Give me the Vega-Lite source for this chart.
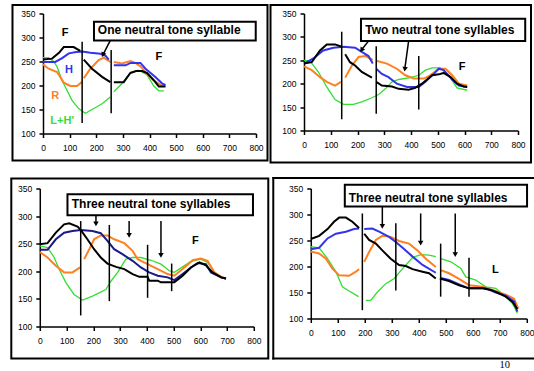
{
  "$schema": "https://vega.github.io/schema/vega-lite/v6.json",
  "padding": {"left": 9.5, "top": 3.5, "right": 0, "bottom": 0},
  "config": {
    "view": {"stroke": null},
    "font": "Liberation Sans",
    "axis": {"domainColor": "black", "domainWidth": 1.5, "tickColor": "black", "tickWidth": 1.5, "tickSize": 4, "labelFont": "Liberation Sans", "labelFontSize": 8.5, "labelColor": "black", "grid": false, "labelFlush": false, "labelOverlap": false}
  },
  "vconcat": [
    {
      "hconcat": [
        {
          "width": 213, "height": 120,
          "data": {"values": [
              {"s":"L","g":1,"x":0,"y":258},{"s":"L","g":1,"x":21,"y":258},{"s":"L","g":1,"x":40,"y":250},{"s":"L","g":1,"x":53,"y":239},{"s":"L","g":1,"x":71,"y":211},{"s":"L","g":1,"x":90,"y":190},{"s":"L","g":1,"x":109,"y":169},{"s":"L","g":1,"x":134,"y":152},{"s":"L","g":1,"x":159,"y":142},{"s":"L","g":1,"x":191,"y":152},{"s":"L","g":1,"x":222,"y":162},{"s":"L","g":1,"x":253,"y":176},
              {"s":"L","g":2,"x":266,"y":187},{"s":"L","g":2,"x":297,"y":204},{"s":"L","g":2,"x":329,"y":228},{"s":"L","g":2,"x":360,"y":232},{"s":"L","g":2,"x":391,"y":222},{"s":"L","g":2,"x":416,"y":199},{"s":"L","g":2,"x":435,"y":189},{"s":"L","g":2,"x":454,"y":189},
              {"s":"R","g":1,"x":0,"y":244},{"s":"R","g":1,"x":21,"y":235},{"s":"R","g":1,"x":53,"y":228},{"s":"R","g":1,"x":78,"y":206},{"s":"R","g":1,"x":103,"y":199},{"s":"R","g":1,"x":128,"y":199},{"s":"R","g":1,"x":147,"y":208},
              {"s":"R","g":2,"x":153,"y":215},{"s":"R","g":2,"x":178,"y":235},{"s":"R","g":2,"x":209,"y":253},{"s":"R","g":2,"x":228,"y":258},{"s":"R","g":2,"x":253,"y":249},
              {"s":"R","g":3,"x":266,"y":249},{"s":"R","g":3,"x":297,"y":246},{"s":"R","g":3,"x":329,"y":251},{"s":"R","g":3,"x":347,"y":247},{"s":"R","g":3,"x":366,"y":240},{"s":"R","g":3,"x":385,"y":228},{"s":"R","g":3,"x":416,"y":211},{"s":"R","g":3,"x":448,"y":199},{"s":"R","g":3,"x":460,"y":199},
              {"s":"H","g":1,"x":0,"y":249},{"s":"H","g":1,"x":46,"y":249},{"s":"H","g":1,"x":72,"y":257},{"s":"H","g":1,"x":97,"y":267},{"s":"H","g":1,"x":125,"y":270},{"s":"H","g":1,"x":147,"y":271},{"s":"H","g":1,"x":178,"y":268},{"s":"H","g":1,"x":216,"y":266},{"s":"H","g":1,"x":235,"y":262},{"s":"H","g":1,"x":247,"y":254},
              {"s":"H","g":2,"x":266,"y":242},{"s":"H","g":2,"x":310,"y":242},{"s":"H","g":2,"x":329,"y":247},{"s":"H","g":2,"x":366,"y":247},{"s":"H","g":2,"x":385,"y":235},{"s":"H","g":2,"x":404,"y":226},{"s":"H","g":2,"x":423,"y":217},{"s":"H","g":2,"x":448,"y":204},{"s":"H","g":2,"x":460,"y":201},
              {"s":"F","g":1,"x":0,"y":254},{"s":"F","g":1,"x":34,"y":256},{"s":"F","g":1,"x":60,"y":268},{"s":"F","g":1,"x":78,"y":280},{"s":"F","g":1,"x":115,"y":280},{"s":"F","g":1,"x":140,"y":272},
              {"s":"F","g":2,"x":153,"y":254},{"s":"F","g":2,"x":184,"y":235},{"s":"F","g":2,"x":222,"y":218},{"s":"F","g":2,"x":253,"y":207},
              {"s":"F","g":3,"x":266,"y":207},{"s":"F","g":3,"x":303,"y":207},{"s":"F","g":3,"x":328,"y":226},{"s":"F","g":3,"x":350,"y":230},{"s":"F","g":3,"x":372,"y":230},{"s":"F","g":3,"x":391,"y":226},{"s":"F","g":3,"x":416,"y":211},{"s":"F","g":3,"x":435,"y":198},{"s":"F","g":3,"x":460,"y":198}
          ]},
          "encoding": {
            "x": {"field": "x", "type": "quantitative", "scale": {"domain": [0, 800], "nice": false, "zero": false}, "axis": {"values": [0,100,200,300,400,500,600,700,800], "title": null, "labelPadding": 6}},
            "y": {"field": "y", "type": "quantitative", "scale": {"domain": [100, 350], "nice": false, "zero": false}, "axis": {"values": [100,150,200,250,300,350], "title": null, "labelPadding": 4}}
          },
          "layer": [
            {"data": {"values": [{"x": -114.6, "x2": 843.2, "y": 43.75, "y2": 367.7}]}, "mark": {"type": "rect", "filled": false, "stroke": "black", "strokeWidth": 2}, "encoding": {"x2": {"field": "x2"}, "y2": {"field": "y2"}}},
            {"transform": [{"filter": "datum.s === 'L'"}], "mark": {"type": "line", "strokeWidth": 1.3, "color": "#33dd33"}, "encoding": {"detail": {"field": "g"}}},
            {"transform": [{"filter": "datum.s !== 'L'"}], "mark": {"type": "line", "strokeWidth": 2},
             "encoding": {"color": {"field": "s", "type": "nominal", "scale": {"domain": ["F","H","R","L"], "range": ["#000000","#3333ee","#ff8020","#33dd33"]}, "legend": null}, "detail": {"field": "g"}}},
            {"data": {"values": [{"x":147,"y":122,"y2":291},{"x":256,"y":142,"y2":274}]}, "mark": {"type": "rule", "strokeWidth": 1.5, "color": "black"}, "encoding": {"y2": {"field": "y2"}}},
            {"data": {"values": [{"x":191.5,"x2":799,"y":294,"y2":333}]}, "mark": {"type": "rect", "fill": "white", "stroke": "black", "strokeWidth": 2}, "encoding": {"x2": {"field": "x2"}, "y2": {"field": "y2"}}},
            {"data": {"values": [{"x":206,"y":316,"t":"One neutral tone syllable"}]}, "mark": {"type": "text", "align": "left", "baseline": "middle", "fontWeight": "bold", "fontSize": 12}, "encoding": {"text": {"field": "t"}}},
            {"data": {"values": [{"x":253,"y":294,"x2":226,"y2":265}]}, "mark": {"type": "rule", "strokeWidth": 1.5, "color": "black"}, "encoding": {"x2": {"field": "x2"}, "y2": {"field": "y2"}}},
            {"data": {"values": [{"x":225,"y":264}]}, "mark": {"type": "point", "shape": "triangle-down", "filled": true, "color": "black", "opacity": 1, "size": 30, "angle": 25}},
            {"data": {"values": [{"x":83,"y":309,"t":"F","s":"F"},{"x":98,"y":232,"t":"H","s":"H"},{"x":46,"y":179,"t":"R","s":"R"},{"x":72,"y":126,"t":"L+H'","s":"L"},{"x":435,"y":259,"t":"F","s":"F"}]}, "mark": {"type": "text", "fontWeight": "bold", "fontSize": 11, "baseline": "middle"}, "encoding": {"text": {"field": "t"}, "color": {"field": "s", "type": "nominal", "scale": {"domain": ["F","H","R","L"], "range": ["#000000","#3333ee","#ff8020","#22cc22"]}, "legend": null}}}
          ]
        },
        {
          "width": 214, "height": 117,
          "data": {"values": [
              {"s":"L","g":1,"x":0,"y":250},{"s":"L","g":1,"x":22,"y":249},{"s":"L","g":1,"x":54,"y":225},{"s":"L","g":1,"x":85,"y":193},{"s":"L","g":1,"x":116,"y":166},{"s":"L","g":1,"x":148,"y":156},{"s":"L","g":1,"x":185,"y":156},{"s":"L","g":1,"x":216,"y":161},{"s":"L","g":1,"x":254,"y":170},{"s":"L","g":1,"x":279,"y":177},{"s":"L","g":1,"x":304,"y":189},{"s":"L","g":1,"x":329,"y":204},{"s":"L","g":1,"x":354,"y":209},{"s":"L","g":1,"x":397,"y":213},{"s":"L","g":1,"x":429,"y":218},{"s":"L","g":1,"x":454,"y":229},{"s":"L","g":1,"x":479,"y":234},{"s":"L","g":1,"x":510,"y":234},{"s":"L","g":1,"x":541,"y":218},{"s":"L","g":1,"x":572,"y":191},{"s":"L","g":1,"x":610,"y":186},
              {"s":"R","g":1,"x":0,"y":237},{"s":"R","g":1,"x":29,"y":229},{"s":"R","g":1,"x":60,"y":214},{"s":"R","g":1,"x":85,"y":204},{"s":"R","g":1,"x":116,"y":196},{"s":"R","g":1,"x":138,"y":204},
              {"s":"R","g":2,"x":154,"y":213},{"s":"R","g":2,"x":179,"y":239},{"s":"R","g":2,"x":204,"y":257},{"s":"R","g":2,"x":229,"y":259},{"s":"R","g":2,"x":257,"y":251},
              {"s":"R","g":3,"x":270,"y":249},{"s":"R","g":3,"x":310,"y":243},{"s":"R","g":3,"x":347,"y":232},{"s":"R","g":3,"x":379,"y":218},{"s":"R","g":3,"x":410,"y":211},{"s":"R","g":3,"x":448,"y":211},{"s":"R","g":3,"x":472,"y":218},{"s":"R","g":3,"x":504,"y":232},{"s":"R","g":3,"x":529,"y":232},{"s":"R","g":3,"x":554,"y":218},{"s":"R","g":3,"x":579,"y":200},{"s":"R","g":3,"x":610,"y":196},
              {"s":"H","g":1,"x":0,"y":243},{"s":"H","g":1,"x":35,"y":254},{"s":"H","g":1,"x":72,"y":271},{"s":"H","g":1,"x":110,"y":277},{"s":"H","g":1,"x":148,"y":279},{"s":"H","g":1,"x":191,"y":277},{"s":"H","g":1,"x":216,"y":268},{"s":"H","g":1,"x":241,"y":259},{"s":"H","g":1,"x":257,"y":243},
              {"s":"H","g":2,"x":270,"y":232},{"s":"H","g":2,"x":291,"y":221},{"s":"H","g":2,"x":316,"y":214},{"s":"H","g":2,"x":347,"y":200},{"s":"H","g":2,"x":385,"y":193},{"s":"H","g":2,"x":429,"y":193},{"s":"H","g":2,"x":454,"y":204},{"s":"H","g":2,"x":485,"y":221},{"s":"H","g":2,"x":504,"y":232},{"s":"H","g":2,"x":522,"y":229},{"s":"H","g":2,"x":554,"y":209},{"s":"H","g":2,"x":579,"y":196},{"s":"H","g":2,"x":610,"y":193},
              {"s":"F","g":1,"x":0,"y":243},{"s":"F","g":1,"x":29,"y":246},{"s":"F","g":1,"x":60,"y":271},{"s":"F","g":1,"x":85,"y":284},{"s":"F","g":1,"x":116,"y":284},{"s":"F","g":1,"x":141,"y":279},
              {"s":"F","g":2,"x":154,"y":263},{"s":"F","g":2,"x":172,"y":246},{"s":"F","g":2,"x":191,"y":239},{"s":"F","g":2,"x":216,"y":225},{"s":"F","g":2,"x":254,"y":213},
              {"s":"F","g":3,"x":270,"y":204},{"s":"F","g":3,"x":291,"y":196},{"s":"F","g":3,"x":329,"y":194},{"s":"F","g":3,"x":354,"y":189},{"s":"F","g":3,"x":391,"y":187},{"s":"F","g":3,"x":416,"y":191},{"s":"F","g":3,"x":441,"y":200},{"s":"F","g":3,"x":479,"y":218},{"s":"F","g":3,"x":504,"y":220},{"s":"F","g":3,"x":522,"y":223},{"s":"F","g":3,"x":548,"y":214},{"s":"F","g":3,"x":572,"y":200},{"s":"F","g":3,"x":597,"y":194},{"s":"F","g":3,"x":610,"y":193}
          ]},
          "encoding": {
            "x": {"field": "x", "type": "quantitative", "scale": {"domain": [0, 800], "nice": false, "zero": false}, "axis": {"values": [0,100,200,300,400,500,600,700,800], "title": null, "labelPadding": 6}},
            "y": {"field": "y", "type": "quantitative", "scale": {"domain": [100, 350], "nice": false, "zero": false}, "axis": {"values": [100,150,200,250,300,350], "title": null, "labelPadding": 4}}
          },
          "layer": [
            {"data": {"values": [{"x": -125.2, "x2": 848.6, "y": 31.6, "y2": 368.2}]}, "mark": {"type": "rect", "filled": false, "stroke": "black", "strokeWidth": 2}, "encoding": {"x2": {"field": "x2"}, "y2": {"field": "y2"}}},
            {"transform": [{"filter": "datum.s === 'L'"}], "mark": {"type": "line", "strokeWidth": 1.3, "color": "#33dd33"}, "encoding": {"detail": {"field": "g"}}},
            {"transform": [{"filter": "datum.s !== 'L'"}], "mark": {"type": "line", "strokeWidth": 2},
             "encoding": {"color": {"field": "s", "type": "nominal", "scale": {"domain": ["F","H","R","L"], "range": ["#000000","#3333ee","#ff8020","#33dd33"]}, "legend": null}, "detail": {"field": "g"}}},
            {"data": {"values": [{"x":141,"y":124,"y2":311},{"x":270,"y":136,"y2":280},{"x":429,"y":145,"y2":259}]}, "mark": {"type": "rule", "strokeWidth": 1.5, "color": "black"}, "encoding": {"y2": {"field": "y2"}}},
            {"data": {"values": [{"x":213,"x2":827,"y":291,"y2":339}]}, "mark": {"type": "rect", "fill": "white", "stroke": "black", "strokeWidth": 2}, "encoding": {"x2": {"field": "x2"}, "y2": {"field": "y2"}}},
            {"data": {"values": [{"x":229,"y":315,"t":"Two neutral tone syllables"}]}, "mark": {"type": "text", "align": "left", "baseline": "middle", "fontWeight": "bold", "fontSize": 12}, "encoding": {"text": {"field": "t"}}},
            {"data": {"values": [{"x":241,"y":291,"x2":216,"y2":273},{"x":391,"y":291,"x2":377,"y2":232}]}, "mark": {"type": "rule", "strokeWidth": 1.5, "color": "black"}, "encoding": {"x2": {"field": "x2"}, "y2": {"field": "y2"}}},
            {"data": {"values": [{"x":215,"y":272}]}, "mark": {"type": "point", "shape": "triangle-down", "filled": true, "color": "black", "opacity": 1, "size": 30, "angle": 36}},
            {"data": {"values": [{"x":377,"y":231}]}, "mark": {"type": "point", "shape": "triangle-down", "filled": true, "color": "black", "opacity": 1, "size": 30, "angle": 8}},
            {"data": {"values": [{"x":591,"y":236,"t":"F"}]}, "mark": {"type": "text", "fontWeight": "bold", "fontSize": 11, "baseline": "middle", "color": "black"}, "encoding": {"text": {"field": "t"}}}
          ]
        }
      ],
      "spacing": 0,
      "resolve": {"scale": {"color": "independent"}}
    },
    {
      "hconcat": [
        {
          "width": 214, "height": 138,
          "data": {"values": [
              {"s":"L","g":1,"x":0,"y":246},{"s":"L","g":1,"x":29,"y":243},{"s":"L","g":1,"x":54,"y":225},{"s":"L","g":1,"x":72,"y":204},{"s":"L","g":1,"x":97,"y":180},{"s":"L","g":1,"x":128,"y":158},{"s":"L","g":1,"x":160,"y":148},{"s":"L","g":1,"x":197,"y":155},{"s":"L","g":1,"x":247,"y":167},{"s":"L","g":1,"x":266,"y":182},{"s":"L","g":1,"x":291,"y":198},{"s":"L","g":1,"x":322,"y":222},{"s":"L","g":1,"x":347,"y":225},{"s":"L","g":1,"x":378,"y":225},{"s":"L","g":1,"x":416,"y":220},{"s":"L","g":1,"x":453,"y":213},{"s":"L","g":1,"x":484,"y":201},{"s":"L","g":1,"x":503,"y":198},{"s":"L","g":1,"x":534,"y":208},{"s":"L","g":1,"x":565,"y":218},{"s":"L","g":1,"x":602,"y":222},{"s":"L","g":1,"x":627,"y":216},{"s":"L","g":1,"x":653,"y":198},{"s":"L","g":1,"x":678,"y":189},{"s":"L","g":1,"x":696,"y":186},
              {"s":"R","g":1,"x":0,"y":235},{"s":"R","g":1,"x":29,"y":225},{"s":"R","g":1,"x":60,"y":210},{"s":"R","g":1,"x":91,"y":198},{"s":"R","g":1,"x":122,"y":198},{"s":"R","g":1,"x":151,"y":207},
              {"s":"R","g":2,"x":166,"y":222},{"s":"R","g":2,"x":185,"y":240},{"s":"R","g":2,"x":203,"y":258},{"s":"R","g":2,"x":228,"y":265},{"s":"R","g":2,"x":253,"y":265},{"s":"R","g":2,"x":278,"y":258},{"s":"R","g":2,"x":316,"y":251},{"s":"R","g":2,"x":347,"y":237},{"s":"R","g":2,"x":366,"y":222},{"s":"R","g":2,"x":403,"y":213},{"s":"R","g":2,"x":441,"y":204},{"s":"R","g":2,"x":478,"y":195},{"s":"R","g":2,"x":503,"y":192},{"s":"R","g":2,"x":534,"y":204},{"s":"R","g":2,"x":572,"y":220},{"s":"R","g":2,"x":602,"y":223},{"s":"R","g":2,"x":627,"y":219},{"s":"R","g":2,"x":653,"y":198},{"s":"R","g":2,"x":678,"y":190},{"s":"R","g":2,"x":696,"y":187},
              {"s":"H","g":1,"x":0,"y":239},{"s":"H","g":1,"x":29,"y":239},{"s":"H","g":1,"x":60,"y":258},{"s":"H","g":1,"x":91,"y":270},{"s":"H","g":1,"x":122,"y":273},{"s":"H","g":1,"x":153,"y":275},{"s":"H","g":1,"x":197,"y":273},{"s":"H","g":1,"x":228,"y":269},{"s":"H","g":1,"x":253,"y":255},{"s":"H","g":1,"x":278,"y":240},{"s":"H","g":1,"x":309,"y":231},{"s":"H","g":1,"x":347,"y":219},{"s":"H","g":1,"x":378,"y":207},{"s":"H","g":1,"x":409,"y":198},{"s":"H","g":1,"x":441,"y":192},{"s":"H","g":1,"x":478,"y":189},{"s":"H","g":1,"x":503,"y":184},{"s":"H","g":1,"x":534,"y":195},{"s":"H","g":1,"x":565,"y":207},{"s":"H","g":1,"x":590,"y":215},{"s":"H","g":1,"x":621,"y":213},{"s":"H","g":1,"x":640,"y":198},{"s":"H","g":1,"x":678,"y":189},{"s":"H","g":1,"x":696,"y":187},
              {"s":"F","g":1,"x":0,"y":249},{"s":"F","g":1,"x":29,"y":251},{"s":"F","g":1,"x":60,"y":270},{"s":"F","g":1,"x":91,"y":285},{"s":"F","g":1,"x":110,"y":287},{"s":"F","g":1,"x":141,"y":281},{"s":"F","g":1,"x":153,"y":275},{"s":"F","g":1,"x":178,"y":258},{"s":"F","g":1,"x":203,"y":240},{"s":"F","g":1,"x":228,"y":225},{"s":"F","g":1,"x":253,"y":214},{"s":"F","g":1,"x":285,"y":208},{"s":"F","g":1,"x":316,"y":204},{"s":"F","g":1,"x":347,"y":195},{"s":"F","g":1,"x":372,"y":190},{"s":"F","g":1,"x":403,"y":190},{"s":"F","g":1,"x":409,"y":183},{"s":"F","g":1,"x":441,"y":183},{"s":"F","g":1,"x":453,"y":180},{"s":"F","g":1,"x":503,"y":180},{"s":"F","g":1,"x":534,"y":192},{"s":"F","g":1,"x":565,"y":207},{"s":"F","g":1,"x":597,"y":216},{"s":"F","g":1,"x":621,"y":211},{"s":"F","g":1,"x":646,"y":198},{"s":"F","g":1,"x":678,"y":189},{"s":"F","g":1,"x":696,"y":187}
          ]},
          "encoding": {
            "x": {"field": "x", "type": "quantitative", "scale": {"domain": [0, 800], "nice": false, "zero": false}, "axis": {"values": [0,100,200,300,400,500,600,700,800], "title": null, "labelPadding": 6}},
            "y": {"field": "y", "type": "quantitative", "scale": {"domain": [100, 350], "nice": false, "zero": false}, "axis": {"values": [100,150,200,250,300,350], "title": null, "labelPadding": 4}}
          },
          "layer": [
            {"data": {"values": [{"x": -106.5, "x2": 854.2, "y": 42, "y2": 368.1}]}, "mark": {"type": "rect", "filled": false, "stroke": "black", "strokeWidth": 2}, "encoding": {"x2": {"field": "x2"}, "y2": {"field": "y2"}}},
            {"transform": [{"filter": "datum.s === 'L'"}], "mark": {"type": "line", "strokeWidth": 1.3, "color": "#33dd33"}, "encoding": {"detail": {"field": "g"}}},
            {"transform": [{"filter": "datum.s !== 'L'"}], "mark": {"type": "line", "strokeWidth": 2},
             "encoding": {"color": {"field": "s", "type": "nominal", "scale": {"domain": ["F","H","R","L"], "range": ["#000000","#1a1a8a","#ff8020","#33dd33"]}, "legend": null}, "detail": {"field": "g"}}},
            {"data": {"values": [{"x":153,"y":120,"y2":291},{"x":260,"y":146,"y2":284},{"x":403,"y":152,"y2":248},{"x":493,"y":164,"y2":214}]}, "mark": {"type": "rule", "strokeWidth": 1.5, "color": "black"}, "encoding": {"y2": {"field": "y2"}}},
            {"data": {"values": [{"x":103.5,"x2":797,"y":301.6,"y2":339.7}]}, "mark": {"type": "rect", "fill": "white", "stroke": "black", "strokeWidth": 2}, "encoding": {"x2": {"field": "x2"}, "y2": {"field": "y2"}}},
            {"data": {"values": [{"x":119.6,"y":321.6,"t":"Three neutral tone syllables"}]}, "mark": {"type": "text", "align": "left", "baseline": "middle", "fontWeight": "bold", "fontSize": 12}, "encoding": {"text": {"field": "t"}}},
            {"data": {"values": [{"x":210,"y":301,"x2":210,"y2":287},{"x":334,"y":291,"x2":334,"y2":266},{"x":453,"y":291,"x2":453,"y2":230}]}, "mark": {"type": "rule", "strokeWidth": 1.5, "color": "black"}, "encoding": {"x2": {"field": "x2"}, "y2": {"field": "y2"}}},
            {"data": {"values": [{"x":210,"y":286},{"x":334,"y":265},{"x":453,"y":229}]}, "mark": {"type": "point", "shape": "triangle-down", "filled": true, "color": "black", "opacity": 1, "size": 30}},
            {"data": {"values": [{"x":582,"y":254,"t":"F"}]}, "mark": {"type": "text", "fontWeight": "bold", "fontSize": 11, "baseline": "middle", "color": "black"}, "encoding": {"text": {"field": "t"}}}
          ]
        },
        {
          "width": 216, "height": 130,
          "data": {"values": [
              {"s":"L","g":1,"x":0,"y":238},{"s":"L","g":1,"x":31,"y":236},{"s":"L","g":1,"x":62,"y":215},{"s":"L","g":1,"x":93,"y":190},{"s":"L","g":1,"x":117,"y":161},{"s":"L","g":1,"x":142,"y":153},{"s":"L","g":1,"x":177,"y":142},
              {"s":"L","g":2,"x":204,"y":135},{"s":"L","g":2,"x":222,"y":135},{"s":"L","g":2,"x":247,"y":151},{"s":"L","g":2,"x":278,"y":167},{"s":"L","g":2,"x":309,"y":177},{"s":"L","g":2,"x":340,"y":196},{"s":"L","g":2,"x":377,"y":217},{"s":"L","g":2,"x":407,"y":223},{"s":"L","g":2,"x":438,"y":222},{"s":"L","g":2,"x":463,"y":219},
              {"s":"L","g":3,"x":481,"y":215},{"s":"L","g":3,"x":519,"y":209},{"s":"L","g":3,"x":556,"y":196},{"s":"L","g":3,"x":574,"y":180},{"s":"L","g":3,"x":611,"y":174},{"s":"L","g":3,"x":648,"y":161},{"s":"L","g":3,"x":685,"y":158},{"s":"L","g":3,"x":722,"y":142},{"s":"L","g":3,"x":747,"y":129},{"s":"L","g":3,"x":765,"y":110},
              {"s":"R","g":1,"x":0,"y":229},{"s":"R","g":1,"x":31,"y":225},{"s":"R","g":1,"x":56,"y":215},{"s":"R","g":1,"x":80,"y":196},{"s":"R","g":1,"x":105,"y":183},{"s":"R","g":1,"x":142,"y":182},{"s":"R","g":1,"x":167,"y":190},{"s":"R","g":1,"x":179,"y":195},
              {"s":"R","g":2,"x":198,"y":209},{"s":"R","g":2,"x":216,"y":228},{"s":"R","g":2,"x":241,"y":251},{"s":"R","g":2,"x":265,"y":259},{"s":"R","g":2,"x":296,"y":257},{"s":"R","g":2,"x":327,"y":249},{"s":"R","g":2,"x":364,"y":244},{"s":"R","g":2,"x":395,"y":231},{"s":"R","g":2,"x":426,"y":215},{"s":"R","g":2,"x":463,"y":199},
              {"s":"R","g":3,"x":481,"y":193},{"s":"R","g":3,"x":512,"y":187},{"s":"R","g":3,"x":549,"y":176},{"s":"R","g":3,"x":586,"y":164},{"s":"R","g":3,"x":636,"y":161},{"s":"R","g":3,"x":673,"y":155},{"s":"R","g":3,"x":722,"y":146},{"s":"R","g":3,"x":753,"y":138},{"s":"R","g":3,"x":769,"y":119},
              {"s":"H","g":1,"x":0,"y":233},{"s":"H","g":1,"x":31,"y":236},{"s":"H","g":1,"x":62,"y":254},{"s":"H","g":1,"x":93,"y":263},{"s":"H","g":1,"x":130,"y":267},{"s":"H","g":1,"x":160,"y":272},{"s":"H","g":1,"x":179,"y":273},
              {"s":"H","g":2,"x":198,"y":272},{"s":"H","g":2,"x":228,"y":273},{"s":"H","g":2,"x":253,"y":267},{"s":"H","g":2,"x":290,"y":257},{"s":"H","g":2,"x":315,"y":247},{"s":"H","g":2,"x":340,"y":236},{"s":"H","g":2,"x":377,"y":219},{"s":"H","g":2,"x":414,"y":203},{"s":"H","g":2,"x":463,"y":188},
              {"s":"H","g":3,"x":481,"y":178},{"s":"H","g":3,"x":512,"y":174},{"s":"H","g":3,"x":556,"y":164},{"s":"H","g":3,"x":586,"y":158},{"s":"H","g":3,"x":648,"y":158},{"s":"H","g":3,"x":685,"y":150},{"s":"H","g":3,"x":722,"y":144},{"s":"H","g":3,"x":753,"y":133},{"s":"H","g":3,"x":765,"y":113},
              {"s":"F","g":1,"x":0,"y":253},{"s":"F","g":1,"x":31,"y":259},{"s":"F","g":1,"x":62,"y":272},{"s":"F","g":1,"x":86,"y":286},{"s":"F","g":1,"x":105,"y":294},{"s":"F","g":1,"x":130,"y":294},{"s":"F","g":1,"x":154,"y":286},{"s":"F","g":1,"x":179,"y":274},
              {"s":"F","g":2,"x":198,"y":263},{"s":"F","g":2,"x":216,"y":251},{"s":"F","g":2,"x":241,"y":244},{"s":"F","g":2,"x":265,"y":231},{"s":"F","g":2,"x":296,"y":215},{"s":"F","g":2,"x":327,"y":203},{"s":"F","g":2,"x":352,"y":201},{"s":"F","g":2,"x":377,"y":195},{"s":"F","g":2,"x":414,"y":190},{"s":"F","g":2,"x":438,"y":187},{"s":"F","g":2,"x":463,"y":177},
              {"s":"F","g":3,"x":478,"y":177},{"s":"F","g":3,"x":512,"y":172},{"s":"F","g":3,"x":549,"y":164},{"s":"F","g":3,"x":586,"y":158},{"s":"F","g":3,"x":636,"y":158},{"s":"F","g":3,"x":667,"y":155},{"s":"F","g":3,"x":691,"y":150},{"s":"F","g":3,"x":722,"y":142},{"s":"F","g":3,"x":747,"y":132},{"s":"F","g":3,"x":765,"y":118}
          ]},
          "encoding": {
            "x": {"field": "x", "type": "quantitative", "scale": {"domain": [0, 800], "nice": false, "zero": false}, "axis": {"values": [0,100,200,300,400,500,600,700,800], "title": null, "labelPadding": 6}},
            "y": {"field": "y", "type": "quantitative", "scale": {"domain": [100, 350], "nice": false, "zero": false}, "axis": {"values": [100,150,200,250,300,350], "title": null, "labelPadding": 4}}
          },
          "layer": [
            {"data": {"values": [{"x":-138.9,"x2":-138.9,"y":23.1,"y2":370.2},{"x":-138.9,"x2":826,"y":370.2,"y2":370.2},{"x":-138.9,"x2":826,"y":23.1,"y2":23.1}]}, "mark": {"type": "rule", "strokeWidth": 2, "color": "black", "strokeCap": "square"}, "encoding": {"x2": {"field": "x2"}, "y2": {"field": "y2"}}},
            {"transform": [{"filter": "datum.s === 'L'"}], "mark": {"type": "line", "strokeWidth": 1.3, "color": "#33dd33"}, "encoding": {"detail": {"field": "g"}}},
            {"transform": [{"filter": "datum.s !== 'L'"}], "mark": {"type": "line", "strokeWidth": 2},
             "encoding": {"color": {"field": "s", "type": "nominal", "scale": {"domain": ["F","H","R","L"], "range": ["#000000","#3333ee","#ff8020","#33dd33"]}, "legend": null}, "detail": {"field": "g"}}},
            {"data": {"values": [{"x":191,"y":116,"y2":302},{"x":315,"y":154,"y2":283},{"x":481,"y":142,"y2":244},{"x":586,"y":142,"y2":217}]}, "mark": {"type": "rule", "strokeWidth": 1.5, "color": "black"}, "encoding": {"y2": {"field": "y2"}}},
            {"data": {"values": [{"x":126,"x2":801,"y":315.4,"y2":357.1}]}, "mark": {"type": "rect", "fill": "white", "stroke": "black", "strokeWidth": 2}, "encoding": {"x2": {"field": "x2"}, "y2": {"field": "y2"}}},
            {"data": {"values": [{"x":140.7,"y":331.4,"t":"Three neutral tone syllables"}]}, "mark": {"type": "text", "align": "left", "baseline": "middle", "fontWeight": "bold", "fontSize": 12}, "encoding": {"text": {"field": "t"}}},
            {"data": {"values": [{"x":265,"y":315,"x2":265,"y2":278},{"x":407,"y":302,"x2":407,"y2":246},{"x":535,"y":302,"x2":535,"y2":224}]}, "mark": {"type": "rule", "strokeWidth": 1.5, "color": "black"}, "encoding": {"x2": {"field": "x2"}, "y2": {"field": "y2"}}},
            {"data": {"values": [{"x":265,"y":277},{"x":407,"y":245},{"x":535,"y":223}]}, "mark": {"type": "point", "shape": "triangle-down", "filled": true, "color": "black", "opacity": 1, "size": 30}},
            {"data": {"values": [{"x":684,"y":193,"t":"L"}]}, "mark": {"type": "text", "fontWeight": "bold", "fontSize": 11, "baseline": "middle", "color": "black"}, "encoding": {"text": {"field": "t"}}},
            {"data": {"values": [{"x":718.5,"y":11.5,"t":"10"}]}, "mark": {"type": "text", "font": "Liberation Serif", "fontSize": 10.5, "baseline": "middle", "color": "black"}, "encoding": {"text": {"field": "t"}}}
          ]
        }
      ],
      "spacing": 2,
      "resolve": {"scale": {"color": "independent"}}
    }
  ],
  "spacing": 12,
  "center": true,
  "resolve": {"scale": {"color": "independent"}}
}
